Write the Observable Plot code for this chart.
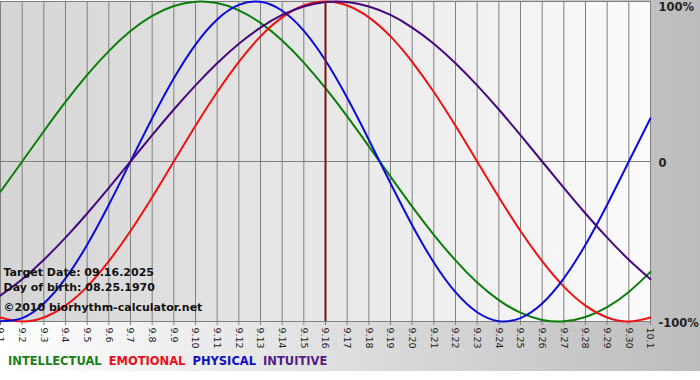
<!DOCTYPE html>
<html>
<head>
<meta charset="utf-8">
<script src="https://cdn.jsdelivr.net/npm/d3@7"></script>
<script src="https://cdn.jsdelivr.net/npm/@observablehq/plot@0.6"></script>
<style>
  html, body { margin: 0; padding: 0; background: #ffffff; }
  #wrap { position: relative; width: 700px; height: 371px; background: linear-gradient(to right, #ffffff 0%, #bcbcbc 100%); overflow: hidden; }
  #chart svg { display: block; }
  #legend { position: absolute; left: 8px; top: 354px; font-family: "DejaVu Sans", Verdana, sans-serif; font-weight: bold; font-size: 11.5px; white-space: nowrap; }
  #legend span { margin-right: 7px; }
</style>
</head>
<body>
<div id="wrap">
  <div id="chart"></div>
  <div id="legend"></div>
</div>
<script>
// Day labels (September 1 to October 1)
const days = ["9.1","9.2","9.3","9.4","9.5","9.6","9.7","9.8","9.9","9.10","9.11","9.12","9.13","9.14","9.15","9.16","9.17","9.18","9.19","9.20","9.21","9.22","9.23","9.24","9.25","9.26","9.27","9.28","9.29","9.30","10.1"];
const targetDay = "9.16";

// Series values (fraction of 100%), read per day
const intellectual = [-0.189,0,0.189,0.372,0.541,0.690,0.815,0.910,0.972,0.999,0.990,0.945,0.866,0.756,0.618,0.458,0.282,0.095,-0.095,-0.282,-0.458,-0.618,-0.756,-0.866,-0.945,-0.990,-0.999,-0.972,-0.910,-0.815,-0.690];
const emotional = [-0.975,-1,-0.975,-0.901,-0.782,-0.623,-0.434,-0.223,0,0.223,0.434,0.623,0.782,0.901,0.975,1,0.975,0.901,0.782,0.623,0.434,0.223,0,-0.223,-0.434,-0.623,-0.782,-0.901,-0.975,-1,-0.975];
const physical = [-0.998,-0.979,-0.888,-0.731,-0.520,-0.270,0,0.270,0.520,0.731,0.888,0.979,0.998,0.942,0.817,0.631,0.398,0.136,-0.136,-0.398,-0.631,-0.817,-0.942,-0.998,-0.979,-0.888,-0.731,-0.520,-0.270,0,0.270];
const intuitive = [-0.837,-0.736,-0.614,-0.476,-0.325,-0.165,0,0.165,0.325,0.476,0.614,0.736,0.837,0.916,0.969,0.997,0.997,0.969,0.916,0.837,0.736,0.614,0.476,0.325,0.165,0,-0.165,-0.325,-0.476,-0.614,-0.736];

const seriesNames = ["INTELLECTUAL","EMOTIONAL","PHYSICAL","INTUITIVE"];
const lineColors = ["#0a7d0a","#ee1111","#0c0cd8","#45087e"];
const legendColors = ["#1b7f1b","#e8101c","#0e0ec8","#581888"];
const yTicks = [1, 0, -1];
const yTickLabels = ["100%", "0", "-100%"];
const notes = ["Target Date: 09.16.2025", "Day of birth: 08.25.1970", "\u00a92010 biorhythm-calculator.net"];

const toRows = (vals) => days.map((d, i) => ({day: d, value: vals[i]}));
const allSeries = [intellectual, emotional, physical, intuitive];

const font = "'DejaVu Sans', Verdana, sans-serif";

const chart = Plot.plot({
  width: 700,
  height: 348,
  marginLeft: 0,
  marginRight: 50,
  marginTop: 1,
  marginBottom: 27,
  style: {background: "transparent", fontFamily: font, color: "#222"},
  x: {type: "point", domain: days, padding: 0, round: false},
  y: {domain: [-1, 1]},
  marks: [
    Plot.frame({fill: "url(#plotBg)", stroke: "#808080"}),
    Plot.ruleX(days, {stroke: "#808080", strokeWidth: 1}),
    Plot.ruleY([0], {stroke: "#808080", strokeWidth: 1}),
    Plot.axisX({anchor: "bottom", tickSize: 4, tickPadding: 2, tickRotate: 90, fontSize: 9.5, stroke: "#808080", color: "#222", label: null}),
    Plot.axisY([-1, 0], {anchor: "right", tickSize: 0, tickPadding: 8, dy: 1.5, fontSize: 11.5, fontWeight: "bold", tickFormat: (d) => yTickLabels[yTicks.indexOf(d)], label: null}),
    Plot.axisY([1], {anchor: "right", tickSize: 0, tickPadding: 8, dy: 6, fontSize: 11.5, fontWeight: "bold", tickFormat: (d) => yTickLabels[yTicks.indexOf(d)], label: null}),
    ...allSeries.map((vals, i) => Plot.line(toRows(vals), {x: "day", y: "value", stroke: lineColors[i], strokeWidth: 2, curve: "natural"})),
    Plot.ruleX([targetDay], {stroke: "#7a1414", strokeWidth: 2}),
    Plot.text([notes[0]], {frameAnchor: "bottom-left", dx: 3, dy: -46, text: (d) => d, fontSize: 11, fontWeight: "bold", fill: "#111", textAnchor: "start", lineAnchor: "bottom"}),
    Plot.text([notes[1]], {frameAnchor: "bottom-left", dx: 3, dy: -31, text: (d) => d, fontSize: 11, fontWeight: "bold", fill: "#111", textAnchor: "start", lineAnchor: "bottom"}),
    Plot.text([notes[2]], {frameAnchor: "bottom-left", dx: 3, dy: -11, text: (d) => d, fontSize: 11, fontWeight: "bold", fill: "#111", textAnchor: "start", lineAnchor: "bottom"})
  ]
});

// Gradient for the plot background
const ns = "http://www.w3.org/2000/svg";
const defs = document.createElementNS(ns, "defs");
const grad = document.createElementNS(ns, "linearGradient");
grad.setAttribute("id", "plotBg");
grad.setAttribute("x1", "0"); grad.setAttribute("x2", "1");
grad.setAttribute("y1", "0"); grad.setAttribute("y2", "0");
[["0%", "#d5d5d5"], ["100%", "#fbfbfb"]].forEach(([o, c]) => {
  const s = document.createElementNS(ns, "stop");
  s.setAttribute("offset", o); s.setAttribute("stop-color", c);
  grad.appendChild(s);
});
defs.appendChild(grad);
chart.insertBefore(defs, chart.firstChild);

document.getElementById("chart").appendChild(chart);

const legend = document.getElementById("legend");
seriesNames.forEach((name, i) => {
  const s = document.createElement("span");
  s.textContent = name;
  s.style.color = legendColors[i];
  legend.appendChild(s);
});
</script>
</body>
</html>
